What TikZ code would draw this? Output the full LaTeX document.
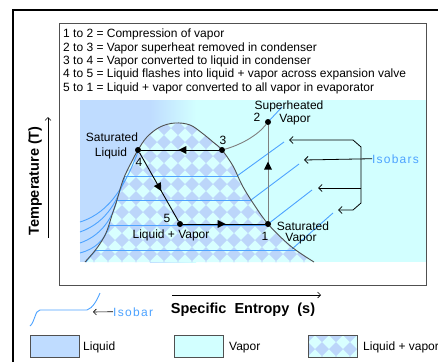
\documentclass[tikz,border=0pt]{standalone}
\usepackage{fontspec}
\setmainfont{Liberation Sans}
\usetikzlibrary{arrows.meta,decorations.markings}
\definecolor{liq}{HTML}{BFDCFF}
\definecolor{vap}{HTML}{D2FFFF}
\definecolor{vapb}{HTML}{D8FFFF}
\definecolor{dia}{HTML}{BCD6FA}
\definecolor{iso}{HTML}{4DA3FF}
\definecolor{domec}{HTML}{505050}
\definecolor{boxc}{HTML}{505050}
\begin{document}
\begin{tikzpicture}[x=1pt,y=-1pt,
  txt/.style={font=\fontsize{12}{13.3}\selectfont, inner sep=0pt},
  axl/.style={font=\fontsize{14.5}{16}\selectfont\bfseries, inner sep=0pt},
  dot/.style={circle,fill=black,inner sep=0pt,minimum size=6pt},
  isoline/.style={iso, line width=0.9pt},
  cyc/.style={black, line width=0.9pt},
  brk/.style={black, line width=0.8pt, -{Straight Barb[length=3.5pt,width=7pt]}},
  thinarr/.style={black, line width=0.6pt, -{Straight Barb[length=3pt,width=6pt]}},
  midarrow/.style={postaction={decorate},decoration={markings,
     mark=at position #1 with {\fill[black] (0,0) -- (-8,4) -- (-8,-4) -- cycle;}}},
  swatch/.style={draw=boxc, line width=0.8pt}
]
\useasboundingbox (0,0) rectangle (438,362);
\fill[white] (0,0) rectangle (438,362);

% background regions
\fill[liq] (80,100) rectangle (150,262);
\shade[left color=liq, right color=vap] (150,100) rectangle (196,262);
\fill[vap] (196,100) rectangle (426,262);

% dome with diamond pattern
\def\domecoords{(85,262) (97,248) (106,233) (112,215) (117,200) (123,180) (131,163) (138,150) (147,137) (160,127) (175,123) (190,125) (202,133) (213,142) (222,150) (233,166) (242,185) (253,203) (268,224) (287,243) (300,253) (314,262)}
\begin{scope}
  \clip plot[smooth,tension=0.6] coordinates {\domecoords} -- cycle;
  \fill[vapb] (80,100) rectangle (330,265);
  \foreach \i in {0,...,18}{\foreach \j in {0,...,12}{
    \fill[dia] ({80+14*\i},{100+14*\j}) +(-7,0) -- +(0,-7) -- +(7,0) -- +(0,7) -- cycle;
  }}
  \foreach \yy in {176,200,225,250}{
    \draw[isoline] (80,\yy) -- (330,\yy);
  }
\end{scope}

% isobars in liquid region
\draw[isoline] (138,152) .. controls (126,182) and (112,212) .. (80,222);
\draw[isoline] (125,176) .. controls (119,198) and (108,222) .. (80,232);
\draw[isoline] (117,200) .. controls (112,220) and (100,236) .. (80,243);
\draw[isoline] (110,225) .. controls (105,240) and (95,249) .. (80,253);
\draw[isoline] (96,250) .. controls (92,255) and (88,259) .. (86,262);

% isobars in vapor region
\draw[isoline] (237,176) -- (284,142);
\draw[isoline] (251,200) -- (299,164);
\draw[isoline] (268,224) -- (312,190);
\draw[isoline] (292,249) -- (333,213);
\draw[isoline] (268,122) -- (282,107);

% dome outline
\draw[domec, line width=0.9pt] plot[smooth,tension=0.6] coordinates {\domecoords};

% cycle points
\node[dot] (p1) at (268,224) {};
\node[dot] (p2) at (268,122) {};
\node[dot] (p3) at (222,150) {};
\node[dot] (p4) at (138,150) {};
\node[dot] (p5) at (180,224) {};

\draw[gray, line width=0.9pt] (p3) .. controls (240,145) and (257,136) .. (p2);
\draw[gray, line width=0.9pt, midarrow=0.62] (p1) -- (p2);
\draw[cyc, midarrow=0.52] (p3) -- (p4);
\draw[cyc, midarrow=0.56] (p4) -- (p5);
\draw[cyc, midarrow=0.52] (p5) -- (p1);

% point labels
\node[txt, anchor=base] (sh1) at (289,109) {Superheated};
\node[txt, anchor=base] (sh2) at (295,122) {Vapor};
\node[txt, anchor=base] (n2) at (257,121) {2};
\node[txt, anchor=base] (n3) at (223,144) {3};
\node[txt, anchor=base] (sl1) at (112,141) {Saturated};
\node[txt, anchor=base] (sl2) at (111,156) {Liquid};
\node[txt, anchor=base] (n4) at (139,166) {4};
\node[txt, anchor=base] (n5) at (167,222) {5};
\node[txt, anchor=base] (lv) at (171,238) {Liquid + Vapor};
\node[txt, anchor=base] (n1) at (265,240) {1};
\node[txt, anchor=base] (sv1) at (303,230) {Saturated};
\node[txt, anchor=base] (sv2) at (301,241) {Vapor};

% Isobars label and bracket
\node[txt, anchor=base west, text=iso, font=\fontsize{12}{13.3}\selectfont\addfontfeatures{LetterSpace=10}] (isolab) at (372,163) {Isobars};
\coordinate (t1) at (289,140);
\coordinate (t2) at (304,160);
\coordinate (t3) at (318,188);
\coordinate (t4) at (338,210);
\coordinate (bk1) at (353,140);
\coordinate (bk2) at (361,147);
\coordinate (bk3) at (361,203);
\coordinate (bk4) at (353,210);
\coordinate (bk5) at (361,188);
\draw[brk, {Straight Barb[length=3.5pt,width=7pt]}-{Straight Barb[length=3.5pt,width=7pt]}] (t1) -- (bk1) -- (bk2) -- (bk3) -- (bk4) -- (t4);
\draw[brk] (isolab.west) -- (t2);
\draw[brk] (bk5) -- (t3);

% legend text box
\node[txt, anchor=base west] (l1) at (63,37.5) {1 to 2 = Compression of vapor};
\node[txt, anchor=base west] (l2) at (63,51) {2 to 3 = Vapor superheat removed in condenser};
\node[txt, anchor=base west] (l3) at (63,64.3) {3 to 4 = Vapor converted to liquid in condenser};
\node[txt, anchor=base west] (l4) at (63,77.6) {4 to 5 = Liquid flashes into liquid + vapor across expansion valve};
\node[txt, anchor=base west] (l5) at (63,91) {5 to 1 = Liquid + vapor converted to all vapor in evaporator};

% frames
\draw[boxc, line width=0.9pt] (59,23) rectangle (426,285);
\draw[black, line width=1.1pt] (13,362) -- (13,10) -- (438,10);

% axes
\node[axl, rotate=90] (tlab) at (35,181) {Temperature (T)};
\coordinate (ta) at (48,238);
\coordinate (tb) at (48,117);
\draw[thinarr] (ta) -- (tb);
\node[axl, anchor=base] (slab) at (243,313) {Specific\ \ Entropy\ \ (s)};
\coordinate (sa) at (172,295);
\coordinate (sb) at (321,295);
\draw[thinarr] (sa) -- (sb);

% legend: isobar sample
\draw[isoline] (30,326) .. controls (35,322) and (35,310) .. (40,310) -- (87,310) .. controls (93,308) and (97,300) .. (100,293);
\node[txt, anchor=base west, text=iso, font=\fontsize{12}{13.3}\selectfont\addfontfeatures{LetterSpace=11}] (isob) at (113,316) {Isobar};
\coordinate (ia) at (93,312);
\draw[thinarr] (isob.west) -- (ia);

% legend swatches
\fill[liq] (30,335) rectangle (79,357);
\draw[swatch] (30,335) rectangle (79,357);
\node[txt, anchor=base west] (lg1) at (83,350) {Liquid};
\fill[vap] (174,335) rectangle (223,357);
\draw[swatch] (174,335) rectangle (223,357);
\node[txt, anchor=base west] (lg2) at (229,350) {Vapor};
\begin{scope}
  \clip (308,335) rectangle (357,357);
  \fill[vapb] (308,335) rectangle (357,357);
  \foreach \i in {0,...,4}{\foreach \j in {0,...,2}{
    \fill[dia] ({308+14*\i},{335+14*\j}) +(-7,0) -- +(0,-7) -- +(7,0) -- +(0,7) -- cycle;
  }}
\end{scope}
\draw[swatch] (308,335) rectangle (357,357);
\node[txt, anchor=base west] (lg3) at (363,350) {Liquid + vapor};
\end{tikzpicture}
\end{document}
